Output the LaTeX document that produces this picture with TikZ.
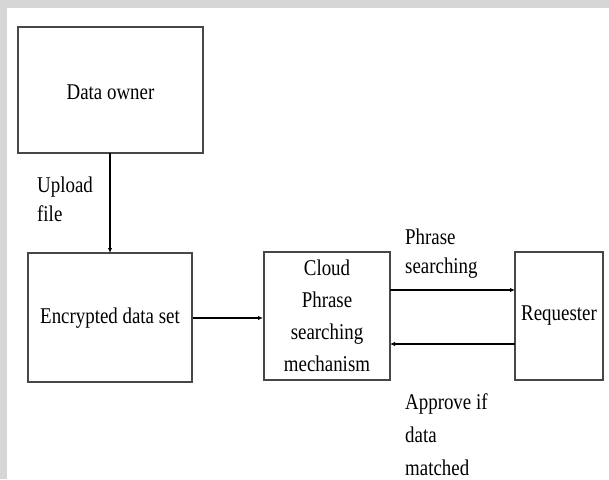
\documentclass[tikz,border=0pt]{standalone}
\usepackage{fontspec}
\setmainfont[FakeStretch=0.84]{Liberation Serif}
\usetikzlibrary{arrows.meta}
\begin{document}
\begin{tikzpicture}[x=1pt,y=-1pt,
  box/.style={draw=black!72,line width=1.4pt},
  lbl/.style={font=\fontsize{22.5}{31}\selectfont,inner sep=0pt},
  conn/.style={line width=1.4pt,-{Latex[length=5pt,width=4.5pt]}}]
\useasboundingbox (0,0) rectangle (609,479);
\fill[black!16] (0,0) rectangle (609,479);
\fill[white] (7,8) rectangle (609,479);
% boxes
\draw[box] (18,27) rectangle (203,153);
\node[lbl] (owner) at (110.5,92) {Data owner};
\coordinate (ownerS) at (110,153);
\draw[box] (28,253) rectangle (192,382);
\node[lbl] (enc) at (110,318) {Encrypted data set};
\coordinate (encN) at (110,253);
\coordinate (encE) at (193,318);
\draw[box] (264,252) rectangle (390,380);
\node[lbl,align=center,font=\fontsize{22.5}{32}\selectfont] (cloud) at (327,316) {Cloud\\Phrase\\searching\\mechanism};
\coordinate (cloudW) at (263,318);
\coordinate (cloudE1) at (390,290);
\coordinate (cloudE2) at (390,344);
\draw[box] (515,252) rectangle (603,380);
\node[lbl] (req) at (559,316) {Requester};
\coordinate (reqW1) at (515,290);
\coordinate (reqW2) at (515,344);
% connectors
\draw[conn] (ownerS) -- (encN);
\draw[conn] (encE) -- (cloudW);
\draw[conn] (cloudE1) -- (reqW1);
\draw[conn] (reqW2) -- (cloudE2);
% labels
\node[lbl,align=left,anchor=north west,font=\fontsize{22.5}{29}\selectfont] (up) at (37,177) {Upload\\file};
\node[lbl,align=left,anchor=north west,font=\fontsize{22.5}{29}\selectfont] (ph) at (405,229) {Phrase\\searching};
\node[lbl,align=left,anchor=north west,font=\fontsize{22.5}{33}\selectfont] (ap) at (405,393) {Approve if\\data\\matched};
\end{tikzpicture}
\end{document}
